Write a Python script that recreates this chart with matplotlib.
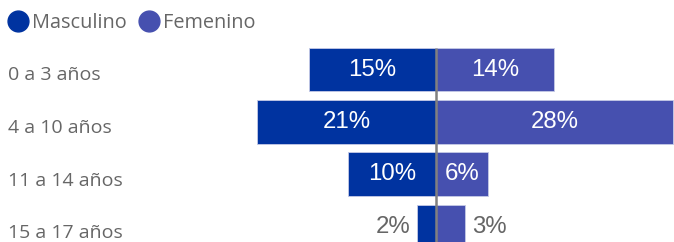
"""Distribución por edad y sexo: barras divergentes."""
import matplotlib
matplotlib.use("Agg")
import matplotlib.pyplot as plt
from matplotlib.lines import Line2D

# Data
categories = ["0 a 3 años", "4 a 10 años", "11 a 14 años", "15 a 17 años"]
masculino = [15.0, 21.1, 10.4, 2.2]
femenino = [13.9, 28.0, 6.1, 3.4]
series_names = ["Masculino", "Femenino"]

# Styles
COLOR_M = "#0033A0"
COLOR_F = "#4650AF"
TEXT_GRAY = "#666666"
LABEL_FONT = "Open Sans"
NUM_FONT = "Liberation Sans"

W, H = 674, 242
fig = plt.figure(figsize=(W / 100, H / 100), dpi=100)

# axes placed in pixel coordinates: x from 240 to 674, y from 40 to 242
ax = fig.add_axes([240 / W, 0, 434 / W, 202 / H])
ax.set_xlim(-23.14, 28.1)
ax.set_ylim(3.286, -0.562)
ax.axis("off")

ypos = list(range(len(categories)))
bar_h = 0.838
ax.barh(ypos, [-v for v in masculino], height=bar_h, color=COLOR_M,
        edgecolor="#C5CAE6", linewidth=0.6)
ax.barh(ypos, femenino, height=bar_h, color=COLOR_F,
        edgecolor="#C5CAE6", linewidth=0.6)

ax.vlines(0, -bar_h / 2, 3.4, color="#808080", linewidth=1.8, zorder=5)

# value labels: inside when the bar is wide enough, otherwise outside in gray
for y, m, f in zip(ypos, masculino, femenino):
    txt = f"{round(m)}%"
    if m >= 5:
        ax.text(-m / 2, y, txt, ha="center", va="center", color="white",
                fontsize=17.3, family=NUM_FONT, zorder=6)
    else:
        ax.text(-m - 0.85, y, txt, ha="right", va="center", color=TEXT_GRAY,
                fontsize=17.3, family=NUM_FONT, zorder=6)
    txt = f"{round(f)}%"
    if f >= 5:
        ax.text(f / 2, y, txt, ha="center", va="center", color="white",
                fontsize=17.3, family=NUM_FONT, zorder=6)
    else:
        ax.text(f + 0.9, y, txt, ha="left", va="center", color=TEXT_GRAY,
                fontsize=17.3, family=NUM_FONT, zorder=6)

# category labels on the left side of the figure
for y, cat in zip(ypos, categories):
    ypix = 69.5 + y * 52.5 + 6
    fig.text(8 / W, 1 - ypix / H, cat, ha="left", va="center",
             color=TEXT_GRAY, fontsize=14, family=LABEL_FONT)

# legend
handles = [Line2D([], [], marker="o", linestyle="", markersize=15,
                  markerfacecolor=c, markeredgecolor=c)
           for c in (COLOR_M, COLOR_F)]
leg = fig.legend(handles, series_names, loc="upper left",
                 bbox_to_anchor=(-5 / W, 0.985), ncol=2, frameon=False,
                 handletextpad=0.0, columnspacing=0.45, handlelength=1.4,
                 borderaxespad=0.25, borderpad=0.2,
                 prop={"family": LABEL_FONT, "size": 14.3})
for t in leg.get_texts():
    t.set_color(TEXT_GRAY)

fig.savefig("out.png", dpi=100)
